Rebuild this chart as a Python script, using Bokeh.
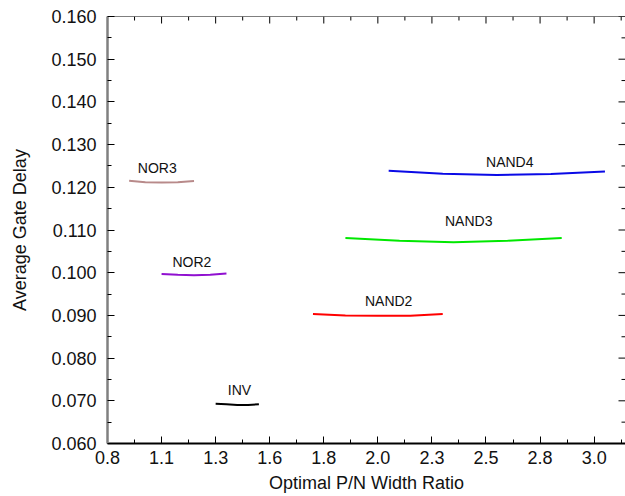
import math
from bokeh.plotting import figure
from bokeh.models import FixedTicker, NumeralTickFormatter, Range1d, Span
from bokeh.embed import file_html
from bokeh.resources import INLINE
from bokeh.core.properties import value

# ---- data ----
series_names = ["NOR3", "NOR2", "INV", "NAND2", "NAND3", "NAND4"]
series_colors = ["#b88a8a", "#9010d0", "#000000", "#ff0000", "#00e800", "#0a0ae6"]

nor3_x = [0.90, 0.975, 1.05, 1.125, 1.20]
nor3_y = [0.12155, 0.1212, 0.1211, 0.1212, 0.1215]
nor2_x = [1.05, 1.125, 1.20, 1.275, 1.35]
nor2_y = [0.0997, 0.0995, 0.0994, 0.0995, 0.0998]
inv_x = [1.30, 1.35, 1.40, 1.45, 1.50]
inv_y = [0.0693, 0.0692, 0.0690, 0.0690, 0.0692]
nand2_x = [1.75, 1.90, 2.05, 2.20, 2.35]
nand2_y = [0.0903, 0.0900, 0.0899, 0.0899, 0.0903]
nand3_x = [1.90, 2.15, 2.40, 2.65, 2.90]
nand3_y = [0.1081, 0.1075, 0.10715, 0.1075, 0.1081]
nand4_x = [2.10, 2.35, 2.60, 2.85, 3.10]
nand4_y = [0.1239, 0.1232, 0.1229, 0.1231, 0.1237]

label_x = [1.03, 1.19, 1.41, 2.10, 2.47, 2.66]
label_y = [0.1245, 0.1024, 0.0725, 0.0933, 0.1120, 0.1259]

x_ticks = [0.8, 1.05, 1.3, 1.55, 1.8, 2.05, 2.3, 2.55, 2.8, 3.05]
x_tick_labels = ["0.8", "1.1", "1.3", "1.6", "1.8", "2.0", "2.3", "2.5", "2.8", "3.0"]
x_minor = [0.925, 1.175, 1.425, 1.675, 1.925, 2.175, 2.425, 2.675, 2.925, 3.175]
y_ticks = [0.06, 0.07, 0.08, 0.09, 0.10, 0.11, 0.12, 0.13, 0.14, 0.15, 0.16]
y_minor = [0.065, 0.075, 0.085, 0.095, 0.105, 0.115, 0.125, 0.135, 0.145, 0.155]

x_min, x_max = 0.8, 3.195
y_min, y_max = 0.06, 0.16

xs = [nor3_x, nor2_x, inv_x, nand2_x, nand3_x, nand4_x]
ys = [nor3_y, nor2_y, inv_y, nand2_y, nand3_y, nand4_y]

FONT = "Liberation Sans"

p = figure(width=625, height=496, output_backend="svg", toolbar_location=None,
           x_range=Range1d(x_min, x_max), y_range=Range1d(y_min, y_max),
           min_border_left=107, min_border_right=0, min_border_top=16,
           min_border_bottom=53, x_axis_label="Optimal P/N Width Ratio",
           y_axis_label="Average Gate Delay")
p.outline_line_color = None
p.grid.visible = False
p.background_fill_color = "white"
p.border_fill_color = "white"

for x, y, c in zip(xs, ys, series_colors):
    p.line(x, y, line_color=c, line_width=2)

p.text(x=label_x, y=label_y, text=series_names, text_align="center",
       text_baseline="middle", text_font=value(FONT), text_font_size="14px",
       text_color="#111111")

xa = p.xaxis[0]
xa.ticker = FixedTicker(ticks=x_ticks, minor_ticks=x_minor)
xa.major_label_overrides = dict(zip(x_ticks, x_tick_labels))
ya = p.yaxis[0]
ya.ticker = FixedTicker(ticks=y_ticks, minor_ticks=y_minor)
ya.formatter = NumeralTickFormatter(format="0.000")

for ax in (xa, ya):
    ax.major_tick_in = 7
    ax.major_tick_out = 0
    ax.minor_tick_in = 4
    ax.minor_tick_out = 0
    ax.major_tick_line_color = "#000000"
    ax.minor_tick_line_color = "#000000"
    ax.major_label_text_font = FONT
    ax.major_label_text_font_size = "18px"
    ax.major_label_text_color = "#111111"
    ax.axis_label_text_font = FONT
    ax.axis_label_text_font_size = "18px"
    ax.axis_label_text_font_style = "normal"
    ax.axis_label_text_color = "#111111"

xa.axis_line_color = "#000000"
xa.axis_line_width = 2
xa.major_label_standoff = 7
xa.axis_label_standoff = 6
ya.axis_line_color = "#808080"
ya.axis_line_width = 2.5
ya.major_label_standoff = 11
ya.axis_label_standoff = 18

# top and right frame lines with inward ticks
p.add_layout(Span(location=y_max, dimension="width", line_color="#000000", line_width=1))
p.add_layout(Span(location=x_max, dimension="height", line_color="#000000", line_width=1))
p.ray(x=x_ticks, y=[y_max] * len(x_ticks), length=7, angle=-math.pi / 2,
      length_units="screen", line_color="#000000", line_width=1)
p.ray(x=x_minor, y=[y_max] * len(x_minor), length=4, angle=-math.pi / 2,
      length_units="screen", line_color="#000000", line_width=1)
p.ray(x=[x_max] * len(y_ticks), y=y_ticks, length=7, angle=math.pi,
      length_units="screen", line_color="#000000", line_width=1)
p.ray(x=[x_max] * len(y_minor), y=y_minor, length=4, angle=math.pi,
      length_units="screen", line_color="#000000", line_width=1)

open("out.html", "w").write(file_html(p, INLINE))
